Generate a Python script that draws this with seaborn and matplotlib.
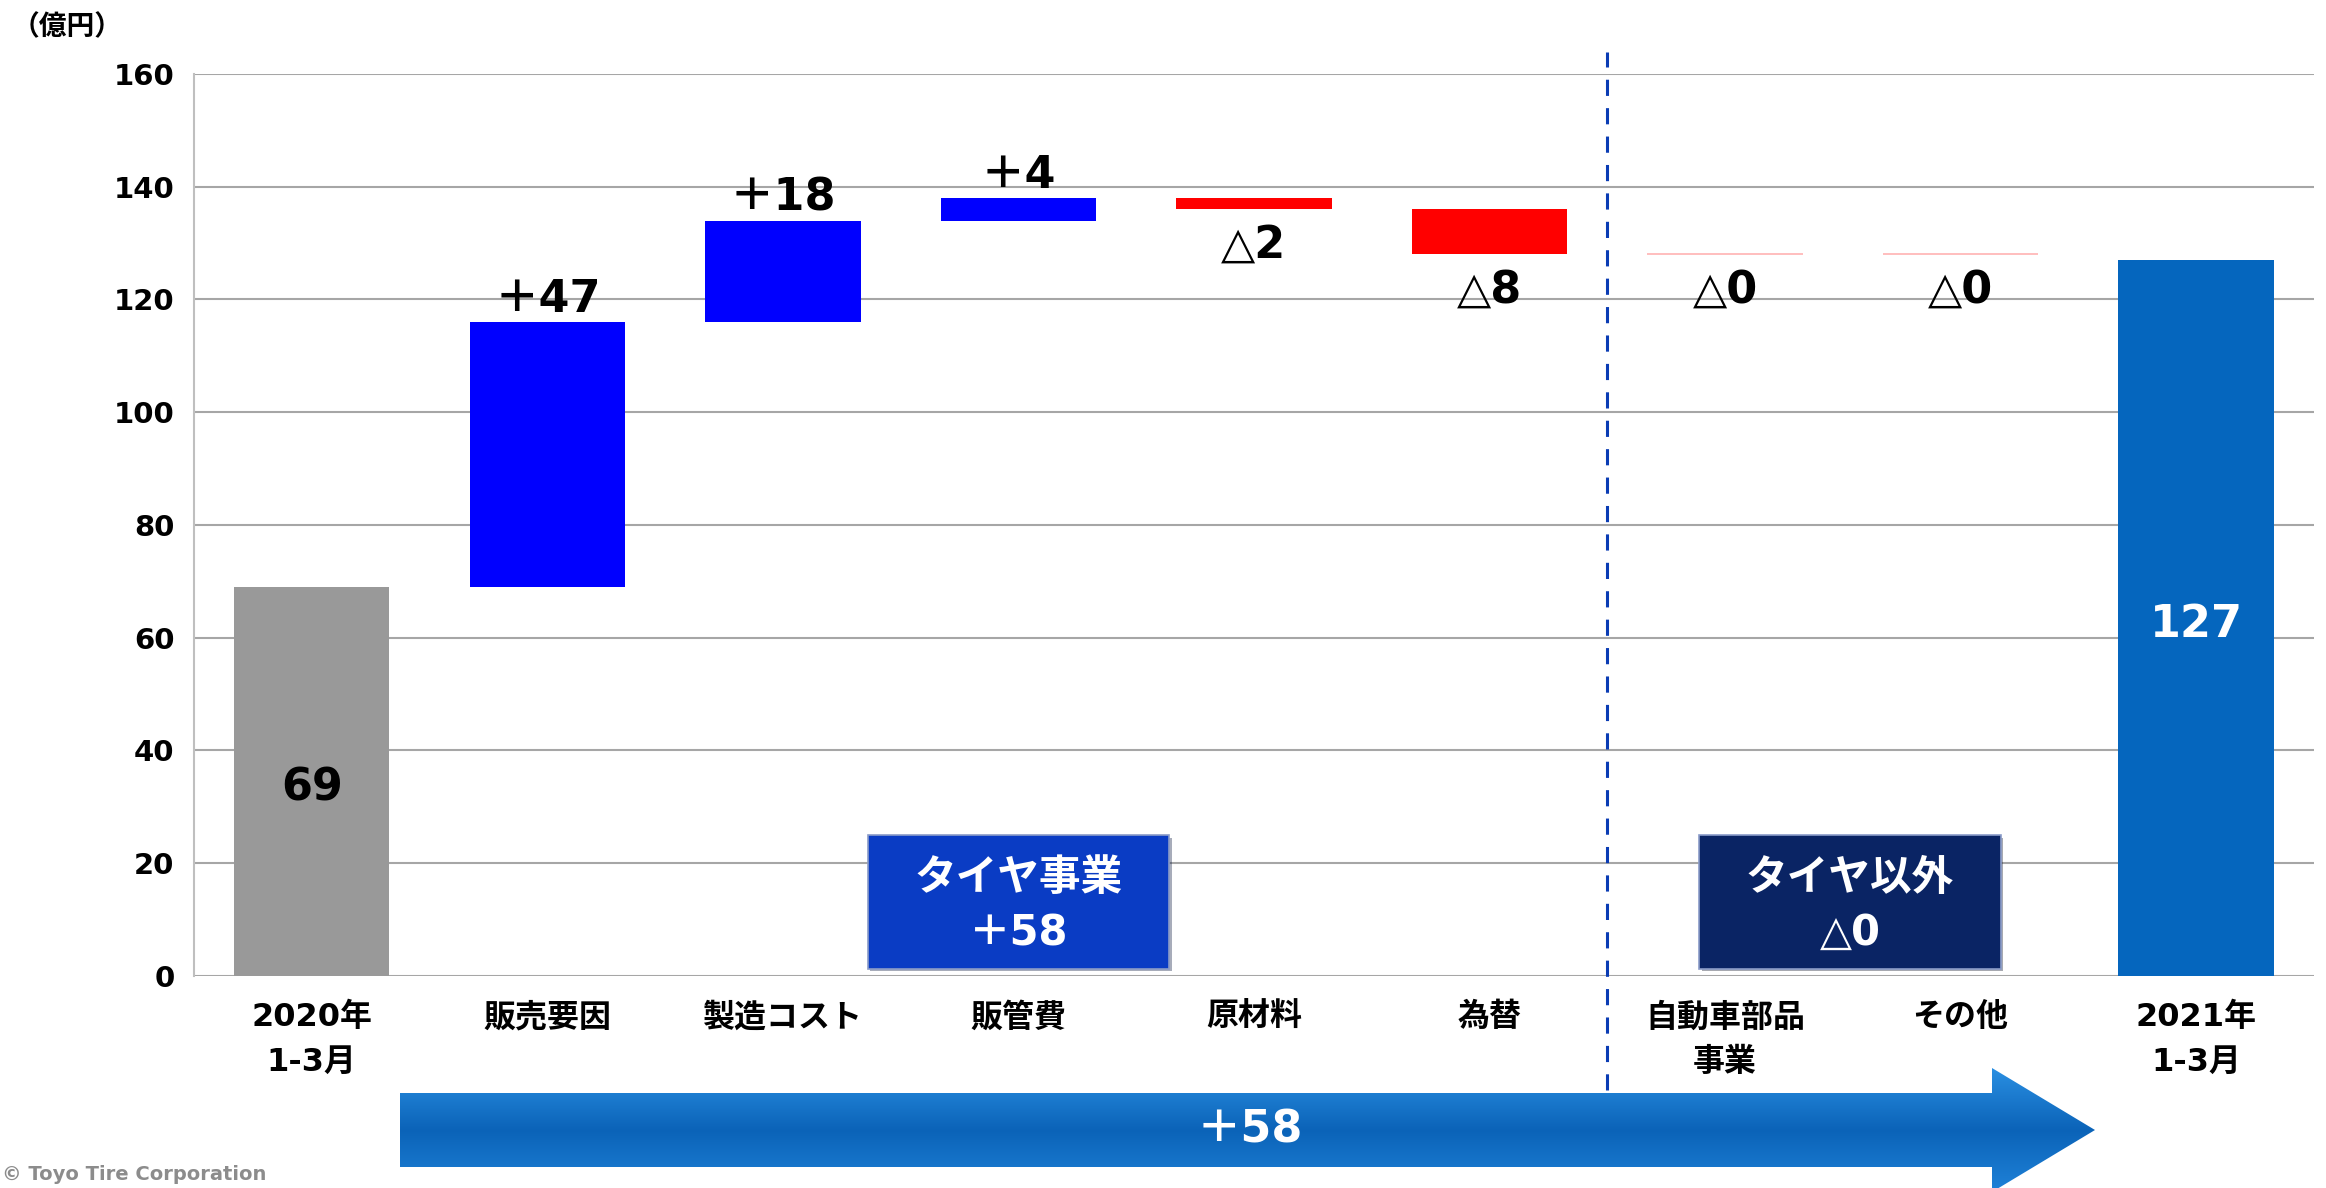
import matplotlib
matplotlib.use('Agg')
import matplotlib.pyplot as plt
from matplotlib.patches import Rectangle, Polygon
from matplotlib.colors import LinearSegmentedColormap
import matplotlib.patheffects as pe
import numpy as np
import pandas as pd
import seaborn as sns

# データ
cats = ['2020年\n1-3月', '販売要因', '製造コスト', '販管費', '原材料', '為替',
        '自動車部品\n事業', 'その他', '2021年\n1-3月']
start_val = 69
deltas = [47, 18, 4, -2, -8, 0, 0]
end_val = 127
bar_labels = ['69', '＋47', '＋18', '＋4', '△2', '△8', '△0', '△0', '127']
yticks = [0, 20, 40, 60, 80, 100, 120, 140, 160]
box_texts = ['タイヤ事業\n＋58', 'タイヤ以外\n△0']
total_text = '＋58'

sns.set_style('white')
plt.rcParams['font.family'] = ['DejaVu Sans', 'Noto Sans CJK JP']
plt.rcParams['font.weight'] = 'bold'
plt.rcParams['text.color'] = 'black'
plt.rcParams['xtick.color'] = 'black'
plt.rcParams['ytick.color'] = 'black'

# ウォーターフォール計算
heights, bottoms, colors = [start_val], [0], ['#999999']
run = start_val
for d in deltas:
    if d >= 0:
        bottoms.append(run)
        run += d
    else:
        run += d
        bottoms.append(run)
    heights.append(abs(d))
    colors.append('#0000FF' if d > 0 else ('#FF0000' if d < 0 else 'none'))
heights.append(end_val)
bottoms.append(0)
colors.append('#0566BE')

df = pd.DataFrame({'cat': cats, 'height': heights, 'bottom': bottoms})

fig = plt.figure(figsize=(23.26, 11.88), dpi=100)
ax = fig.add_axes([0.0834, 0.1785, 0.9114, 0.7592])

sns.barplot(data=df, x='cat', y='height', order=cats, bottom=np.array(bottoms),
            width=0.66, errorbar=None, color='#999999', saturation=1, ax=ax, zorder=3)
for p, c, h in zip(ax.patches, colors, heights):
    if h == 0:
        p.set_facecolor('none')
        p.set_edgecolor('#FFB3B3')
        p.set_linewidth(1.2)
    else:
        p.set_facecolor(c)
        p.set_edgecolor('none')

ax.set_xlim(-0.5, len(cats) - 0.5)
ax.set_ylim(0, 160)
ax.set_yticks(yticks)
ax.set_xlabel('')
ax.set_ylabel('')
ax.grid(axis='y', color='#A6A6A6', lw=1.5, zorder=0)
ax.set_axisbelow(True)
for s in ['top', 'right', 'bottom']:
    ax.spines[s].set_visible(False)
ax.spines['left'].set_color('#BFBFBF')
ax.spines['left'].set_linewidth(1.5)
ax.tick_params(axis='y', length=0, pad=14, labelsize=21)
ax.tick_params(axis='x', length=0, pad=19, labelsize=23)
for t in ax.get_yticklabels() + ax.get_xticklabels():
    t.set_fontweight('bold')
for t in ax.get_xticklabels():
    t.set_linespacing(1.55)

# 値ラベル
n = len(cats)
for i, (lab, h, b) in enumerate(zip(bar_labels, heights, bottoms)):
    if i == 0 or i == n - 1:
        ax.text(i, b + h / 2 - 1.2, lab, ha='center', va='center', fontsize=32,
                fontweight='bold', color='black' if i == 0 else 'white', zorder=5)
    elif deltas[i - 1] > 0:
        ax.text(i, b + h + 1.8, lab, ha='center', va='baseline', fontsize=32,
                fontweight='bold', zorder=5)
    else:
        ax.text(i, b - 8.5, lab, ha='center', va='baseline', fontsize=32,
                fontweight='bold', zorder=5)

# 区切り線
ax.plot([5.5, 5.5], [-20.2, 163.9], color='#0A3CB4', lw=2.2, dashes=(5.3, 4),
        clip_on=False, zorder=4)

# セグメントボックス
box_x = [2.36, 5.89]
box_fc = ['#0A3CC4', '#0A2464']
for bx, fc, txt in zip(box_x, box_fc, box_texts):
    r = Rectangle((bx, 1.3), 1.28, 23.7, facecolor=fc, edgecolor='#8A9BC8', lw=1.2, zorder=6,
                  path_effects=[pe.withSimplePatchShadow(offset=(2, -2), alpha=0.35)])
    ax.add_patch(r)
    ax.text(bx + 0.64, 12.5, txt, ha='center', va='center', fontsize=30, fontweight='bold',
            color='white', linespacing=1.4, zorder=7)

# 合計矢印
ov = fig.add_axes([0, 0, 1, 1])
ov.axis('off')
arrow_pts = [(400, 1093), (1992, 1093), (1992, 1068), (2095, 1130),
             (1992, 1192), (1992, 1167), (400, 1167)]
arr = Polygon(arrow_pts, closed=True, facecolor='none', edgecolor='none')
ov.add_patch(arr)
cmap = LinearSegmentedColormap.from_list('arr', ['#2A8FE2', '#0B63B8', '#1F82D8'])
grad = np.linspace(0, 1, 256).reshape(-1, 1)
im = ov.imshow(grad, cmap=cmap, extent=(400, 2095, 1192, 1068), aspect='auto',
               origin='upper', zorder=2)
im.set_clip_path(arr)
ov.set_xlim(0, 2326)
ov.set_ylim(1188, 0)
ov.text(1250, 1130, total_text, ha='center', va='center', fontsize=32,
        fontweight='bold', color='white', zorder=3)

fig.text(0.005, 1 - 27 / 1188, '（億円）', ha='left', va='center', fontsize=20,
         fontweight='bold')
fig.text(0.001, 0.003, '© Toyo Tire Corporation', ha='left', va='bottom',
         fontsize=14, fontweight='bold', color='#8C8C8C')

fig.savefig('out.png', dpi=100)
